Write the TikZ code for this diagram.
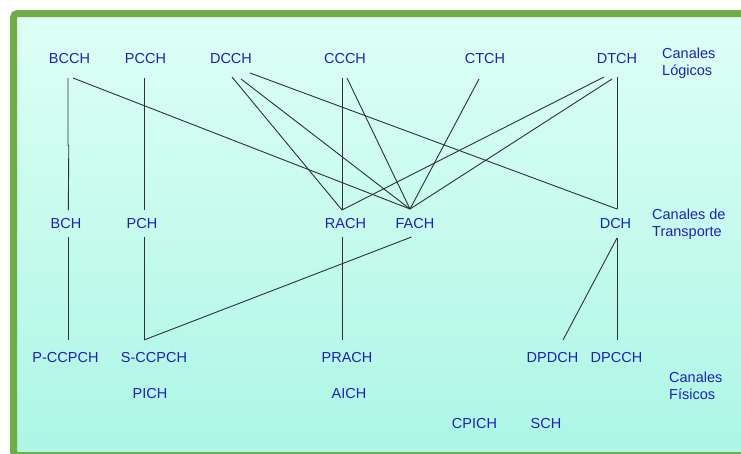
\documentclass[tikz,border=0pt]{standalone}
\usepackage{fontspec}
\setmainfont{Liberation Sans}
\definecolor{frame}{RGB}{112,173,71}
\definecolor{bgtop}{RGB}{222,255,246}
\definecolor{bgbot}{RGB}{172,246,228}
\definecolor{lbl}{RGB}{32,32,185}
\definecolor{wire}{RGB}{45,50,50}
\tikzset{
  ch/.style={inner sep=0pt, text=lbl, font=\fontsize{14.5}{16.5}\selectfont},
  grp/.style={ch, align=left, anchor=north west},
  link/.style={draw=wire, line width=0.9pt}
}
\begin{document}
\begin{tikzpicture}[x=1pt,y=-1pt]
\useasboundingbox (0,0) rectangle (741,453);
\clip (0,0) rectangle (741,453);
\fill[white] (0,0) rectangle (741,453);
\shade[top color=bgtop, bottom color=bgbot] (13.5,13.5) rectangle (760,455.5);
\draw[frame, line width=7pt, rounded corners=4pt] (13.5,13.5) rectangle (760,455.5);

% logical channels
\node[ch] (BCCH) at (69.5,59) {BCCH};
\node[ch] (PCCH) at (145.5,59) {PCCH};
\node[ch] (DCCH) at (231,59) {DCCH};
\node[ch] (CCCH) at (345,59) {CCCH};
\node[ch] (CTCH) at (485,59) {CTCH};
\node[ch] (DTCH) at (617,59) {DTCH};
\node[grp] (LOG) at (662,48) {Canales\\Lógicos};

% transport channels
\node[ch] (BCH) at (66,223.5) {BCH};
\node[ch] (PCH) at (142,223.5) {PCH};
\node[ch] (RACH) at (345.5,223.5) {RACH};
\node[ch] (FACH) at (415,223.5) {FACH};
\node[ch] (DCH) at (615.5,223.5) {DCH};
\node[grp] (TRA) at (652,209) {Canales de\\Transporte};

% physical channels
\node[ch] (PCCPCH) at (65.5,357.5) {P-CCPCH};
\node[ch] (SCCPCH) at (154,357.5) {S-CCPCH};
\node[ch] (PRACH) at (347,357.5) {PRACH};
\node[ch] (DPDCH) at (552.5,357.5) {DPDCH};
\node[ch] (DPCCH) at (616.5,357.5) {DPCCH};
\node[ch] (PICH) at (150,393.5) {PICH};
\node[ch] (AICH) at (349,393.5) {AICH};
\node[ch] (CPICH) at (474.5,423.5) {CPICH};
\node[ch] (SCH) at (546,423.5) {SCH};
\node[grp] (FIS) at (669,372) {Canales\\Físicos};

% logical -> transport
\draw[link] ([shift={(-1.5,19)}]BCCH.center) -- ++(0,67) -- ++(0.8,0.5) -- ([shift={(2.3,-13.5)}]BCH.center);
\draw[link] ([shift={(3.5,19)}]BCCH.center) -- ([shift={(-5,-14.5)}]FACH.center);
\draw[link] ([shift={(-1.5,19)}]PCCH.center) -- ([shift={(2,-13.5)}]PCH.center);
\draw[link] ([shift={(1,18)}]DCCH.center) -- ([shift={(-3.5,-13.5)}]RACH.center);
\draw[link] ([shift={(10,20)}]DCCH.center) -- ([shift={(-5,-14.5)}]FACH.center);
\draw[link] ([shift={(19,14)}]DCCH.center) -- ([shift={(1.5,-14.5)}]DCH.center);
\draw[link] ([shift={(-3,19)}]CCCH.center) -- ([shift={(-3.5,-13.5)}]RACH.center);
\draw[link] ([shift={(2,19)}]CCCH.center) -- ([shift={(-5,-14.5)}]FACH.center);
\draw[link] ([shift={(-6,20)}]CTCH.center) -- ([shift={(-5,-14.5)}]FACH.center);
\draw[link] ([shift={(-13,18)}]DTCH.center) -- ([shift={(-3.5,-13.5)}]RACH.center);
\draw[link] ([shift={(-5,20)}]DTCH.center) -- ([shift={(-5,-14.5)}]FACH.center);
\draw[link] ([shift={(0,18)}]DTCH.center) -- ([shift={(1.5,-14.5)}]DCH.center);

% transport -> physical
\draw[link] ([shift={(2,13.5)}]BCH.center) -- ([shift={(2.5,-17.5)}]PCCPCH.center);
\draw[link] ([shift={(2,13.5)}]PCH.center) -- ([shift={(-10,-17.5)}]SCCPCH.center);
\draw[link] ([shift={(-3.5,13.5)}]FACH.center) -- ([shift={(-10,-17.5)}]SCCPCH.center);
\draw[link] ([shift={(-3.5,13.5)}]RACH.center) -- ([shift={(-5,-17.5)}]PRACH.center);
\draw[link] ([shift={(1.5,14.5)}]DCH.center) -- ([shift={(10.5,-17.5)}]DPDCH.center);
\draw[link] ([shift={(1.5,14.5)}]DCH.center) -- ([shift={(0.5,-17.5)}]DPCCH.center);
\end{tikzpicture}
\end{document}
